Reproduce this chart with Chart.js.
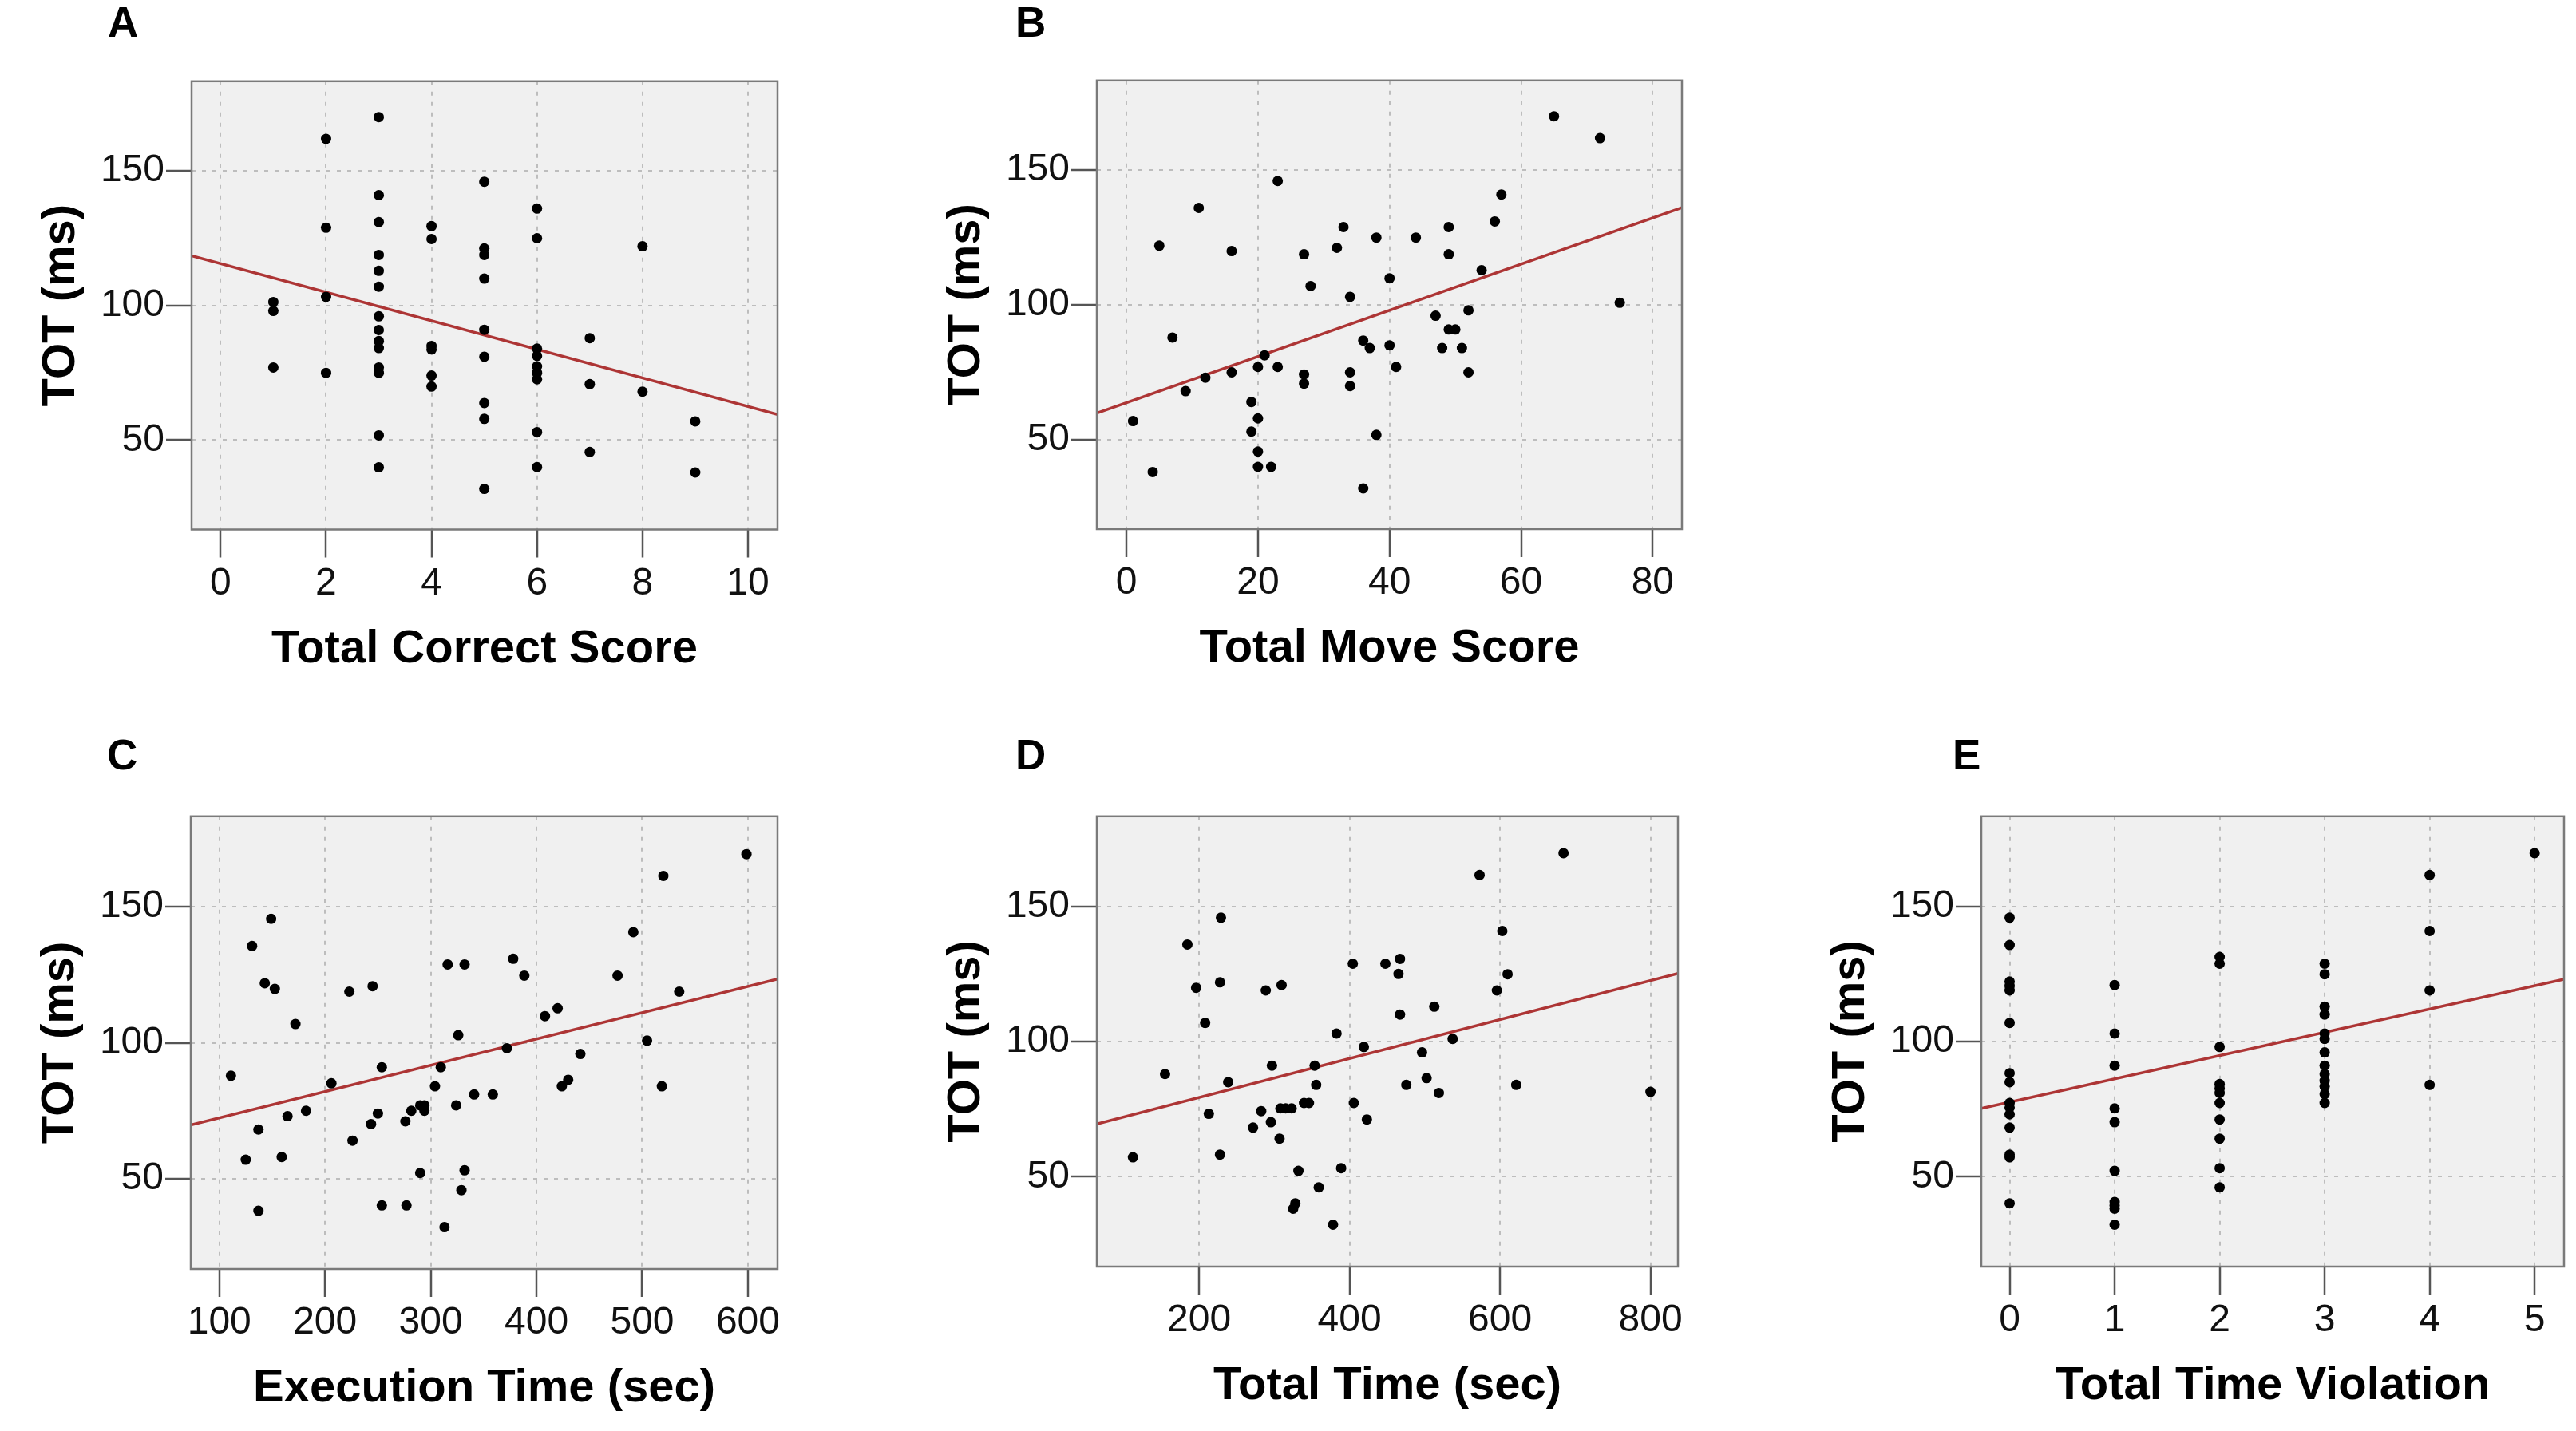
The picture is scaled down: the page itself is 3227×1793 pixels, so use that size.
<!DOCTYPE html>
<html>
<head>
<meta charset="utf-8">
<title>TOT vs task scores</title>
<script src="https://cdn.jsdelivr.net/npm/chart.js@4.4.1/dist/chart.umd.min.js"></script>
<style>
  html, body { margin: 0; padding: 0; background: #fff; }
  body { width: 3227px; height: 1793px; position: relative; overflow: hidden; font-family: "Liberation Sans", Arial, sans-serif; }
  .panel { position: absolute; }
  .letter { position: absolute; font-weight: bold; font-size: 53px; line-height: 53px; color: #000; }
</style>
</head>
<body>
<div class="letter" style="left:135px;top:1px">A</div>
<div class="letter" style="left:1272px;top:1px">B</div>
<div class="letter" style="left:134px;top:919px">C</div>
<div class="letter" style="left:1272px;top:919px">D</div>
<div class="letter" style="left:2446px;top:919px">E</div>

<div class="panel"><canvas id="chartA"></canvas></div>
<div class="panel"><canvas id="chartB"></canvas></div>
<div class="panel"><canvas id="chartC"></canvas></div>
<div class="panel"><canvas id="chartD"></canvas></div>
<div class="panel"><canvas id="chartE"></canvas></div>

<script>
"use strict";

// Shared y axis: time on task (ms)
var totTicks = [50, 100, 150];
var totRange = [16.8, 183.3];

// A - Total Correct Score
var correctScore = [1, 1, 1,
    2, 2, 2, 2,
    3, 3, 3, 3, 3, 3, 3, 3, 3, 3, 3, 3, 3, 3,
    4, 4, 4, 4, 4, 4,
    5, 5, 5, 5, 5, 5, 5, 5, 5,
    6, 6, 6, 6, 6, 6, 6, 6, 6,
    7, 7, 7,
    8, 8,
    9, 9];
var totCorrect = [101.3, 98, 77,
    161.9, 128.9, 103.2, 75,
    170, 141, 131, 118.8, 112.9, 107, 96, 90.9, 86.8, 84.2, 77, 75, 51.8, 39.9,
    129.5, 124.7, 85, 83.7, 74, 69.9,
    146, 121.2, 118.8, 110, 91, 81, 63.8, 57.9, 31.9,
    136, 125, 84, 81.3, 77.4, 75, 72.6, 53, 40,
    87.9, 70.8, 45.6,
    122, 68,
    57, 38];
var correctTicks = [0, 2, 4, 6, 8, 10];
var correctRange = [-0.55, 10.56];
var correctFit = [115.6, -5.31]; // intercept, slope

// B - Total Move Score
var moveScore = [1, 4, 5, 7, 9, 11, 12, 16, 16, 19, 19, 20, 20, 20, 20, 21, 22, 23, 23, 27, 27, 27, 28, 32, 33, 34,
    34, 34, 36, 36, 37, 38, 38, 40, 40, 41, 44, 47, 48, 49, 49, 49, 50, 51, 52, 52, 54, 56, 57, 65, 72, 75];
var totMove = [56.9, 38, 122, 87.9, 68, 136, 73, 75, 120, 64, 53, 57.9, 77, 45.6, 39.9, 81.3, 39.9, 77, 146, 118.8, 74.2, 70.8, 107, 121.2, 128.9, 103,
    75, 69.9, 86.8, 31.9, 84, 125, 51.8, 109.9, 85, 77, 125, 96, 84, 128.9, 118.8, 90.9, 90.9, 84, 98, 75, 112.9, 131, 141, 170, 161.9, 100.8];
var moveTicks = [0, 20, 40, 60, 80];
var moveRange = [-4.5, 84.45];
var moveFit = [63.7, 0.857];

// C - Execution Time (sec)
var execTime = [111, 125, 131, 137, 137, 143, 149, 152.5, 159, 164.5, 172, 182, 206, 223, 226, 243.5, 245, 250, 253.7, 253.7,
    276, 277, 281.6, 290, 290, 294, 294, 304, 309.5, 313, 316, 324, 326, 329, 332, 332, 341, 358.7, 372, 378,
    388.5, 408, 420, 424, 430, 441.5, 476.7, 491.6, 504.6, 518.6, 520, 535, 598.6];
var totExec = [87.9, 57, 135.6, 68.1, 38.2, 121.9, 145.6, 119.8, 58, 73, 106.9, 75, 85.1, 118.8, 64, 70.1, 120.8, 74, 91, 40.2,
    71.1, 40.2, 75, 52.1, 77, 77, 75, 84, 91, 32.2, 128.8, 77, 102.8, 45.8, 128.8, 53.1, 81, 81, 98, 130.9,
    124.7, 109.8, 112.7, 84, 86.4, 95.9, 124.7, 140.7, 100.8, 84, 161.4, 118.8, 169.4];
var execTicks = [100, 200, 300, 400, 500, 600];
var execRange = [73, 628];
var execFit = [62.75, 0.0966];

// D - Total Time (sec)
var totalTime = [112, 154.7, 184.4, 196, 208, 212.9, 227.7, 227.7, 229, 238.6, 271.7, 282.5, 288.6, 295.4, 296.8, 306.9, 308, 309.6,
    315, 323, 325, 327.9, 332, 339.4, 346, 353.6, 355.6, 359, 378, 382.7, 388.8, 404.3, 405.7, 419, 423, 447.6, 465, 467,
    467, 475.4, 496.3, 502.4, 512.6, 518.7, 537, 572.8, 595.8, 603, 610, 621.5, 684.4, 800];
var totTotal = [57.2, 88, 135.9, 119.9, 106.9, 73.3, 121.9, 58.2, 145.8, 85, 68.2, 74.3, 118.9, 70.2, 91.1, 64.1, 75.3, 120.9,
    75.3, 75.3, 38.2, 40.2, 52.2, 77.3, 77.3, 91.1, 84, 46.1, 32.3, 103, 53.2, 128.8, 77.3, 98, 71.2, 128.8, 125, 130.6,
    110, 84, 96, 86.5, 112.9, 81, 101, 161.6, 118.9, 140.9, 124.9, 84, 169.7, 81.4];
var totalTicks = [200, 400, 600, 800];
var totalRange = [64, 836.5];
var totalFit = [64.9, 0.0721];

// E - Total Time Violation
var violations = [0, 0, 0, 0, 0, 0, 0, 0, 0, 0, 0, 0, 0, 0, 0,
    1, 1, 1, 1, 1, 1, 1, 1, 1, 1,
    2, 2, 2, 2, 2, 2, 2, 2, 2, 2, 2,
    3, 3, 3, 3, 3, 3, 3, 3, 3, 3, 3, 3, 3,
    4, 4, 4, 4,
    5];
var totViol = [145.8, 135.7, 122.2, 120.6, 118.9, 106.9, 88.3, 85, 77.3, 75.6, 73.1, 68.2, 58.2, 57.2, 40.2,
    120.9, 103, 91.1, 75.3, 70.2, 52.2, 40.7, 39.4, 38.2, 32.3,
    131.3, 128.8, 98, 84.3, 82.7, 81, 77.3, 71.2, 64.1, 53.2, 46.1,
    128.8, 124.9, 112.9, 110, 103, 101, 96, 91.1, 88, 85.5, 83.4, 80.6, 77.3,
    161.6, 140.9, 118.9, 84,
    169.7];
var violTicks = [0, 1, 2, 3, 4, 5];
var violRange = [-0.27, 5.28];
var violFit = [77.6, 8.61];

// layout of the plot boxes on the page (left, top, right, bottom)
var Y_AXIS_W = 240;
var X_AXIS_H = 200;
var PAD_T = 20;
var PAD_R = 30;
var FONT = '"Liberation Sans", Arial, sans-serif';

// grey plot background + frame around the plot area
var plotFrame = {
    id: 'plotFrame',
    beforeDraw: function (chart) {
        var a = chart.chartArea, ctx = chart.ctx;
        ctx.save();
        ctx.fillStyle = '#f0f0f0';
        ctx.fillRect(a.left, a.top, a.right - a.left, a.bottom - a.top);
        ctx.restore();
    },
    afterDraw: function (chart) {
        var a = chart.chartArea, ctx = chart.ctx;
        ctx.save();
        ctx.strokeStyle = '#7a7a7a';
        ctx.lineWidth = 2.5;
        ctx.strokeRect(a.left, a.top, a.right - a.left, a.bottom - a.top);
        ctx.restore();
    }
};

function makePanel(id, box, xs, ys, xTicks, xRange, fit, xTitle) {
    var canvas = document.getElementById(id);
    var wrap = canvas.parentNode;
    wrap.style.left = (box[0] - Y_AXIS_W) + 'px';
    wrap.style.top = (box[1] - PAD_T) + 'px';
    wrap.style.width = (box[2] - box[0] + Y_AXIS_W + PAD_R) + 'px';
    wrap.style.height = (box[3] - box[1] + PAD_T + X_AXIS_H) + 'px';

    var points = xs.map(function (x, i) { return { x: x, y: ys[i] }; });
    var fitLine = [
        { x: xRange[0], y: fit[0] + fit[1] * xRange[0] },
        { x: xRange[1], y: fit[0] + fit[1] * xRange[1] }
    ];

    var gridCommon = {
        color: '#bdbdbd',
        lineWidth: 2,
        tickColor: '#555',
        tickWidth: 2.5
    };

    new Chart(canvas.getContext('2d'), {
        type: 'scatter',
        data: {
            datasets: [{
                data: points,
                backgroundColor: '#000',
                borderColor: '#000',
                pointRadius: 6.5,
                borderWidth: 0
            }, {
                type: 'line',
                data: fitLine,
                borderColor: '#ad3535',
                borderWidth: 3.5,
                pointRadius: 0,
                fill: false
            }]
        },
        options: {
            responsive: true,
            maintainAspectRatio: false,
            animation: false,
            devicePixelRatio: 1,
            layout: { padding: { top: PAD_T, right: PAD_R, left: 0, bottom: 0 }, autoPadding: false },
            plugins: { legend: { display: false }, tooltip: { enabled: false } },
            scales: {
                x: {
                    type: 'linear',
                    min: xRange[0],
                    max: xRange[1],
                    afterBuildTicks: function (scale) {
                        scale.ticks = xTicks.map(function (v) { return { value: v }; });
                    },
                    afterFit: function (scale) { scale.height = X_AXIS_H; },
                    grid: Object.assign({ tickLength: 35 }, gridCommon),
                    border: { display: false, dash: [5, 8] },
                    ticks: { color: '#111', padding: 4, maxRotation: 0, font: { family: FONT, size: 48 } },
                    title: {
                        display: true,
                        text: xTitle,
                        color: '#000',
                        font: { family: FONT, size: 58, weight: 'bold' },
                        padding: { top: 0, bottom: 15 }
                    }
                },
                y: {
                    type: 'linear',
                    min: totRange[0],
                    max: totRange[1],
                    afterBuildTicks: function (scale) {
                        scale.ticks = totTicks.map(function (v) { return { value: v }; });
                    },
                    afterFit: function (scale) { scale.width = Y_AXIS_W; },
                    grid: Object.assign({ tickLength: 32 }, gridCommon),
                    border: { display: false, dash: [5, 8] },
                    ticks: { color: '#111', padding: 2, font: { family: FONT, size: 48 } },
                    title: {
                        display: true,
                        text: 'TOT (ms)',
                        color: '#000',
                        font: { family: FONT, size: 58, weight: 'bold' },
                        padding: { top: 42, bottom: 0 }
                    }
                }
            }
        },
        plugins: [plotFrame]
    });
}

makePanel('chartA', [240, 90.5, 974, 663], correctScore, totCorrect, correctTicks, correctRange, correctFit, 'Total Correct Score');
makePanel('chartB', [1374, 90, 2107, 663], moveScore, totMove, moveTicks, moveRange, moveFit, 'Total Move Score');
makePanel('chartC', [239, 1012, 974, 1590], execTime, totExec, execTicks, execRange, execFit, 'Execution Time (sec)');
makePanel('chartD', [1374, 1012, 2102, 1587], totalTime, totTotal, totalTicks, totalRange, totalFit, 'Total Time (sec)');
makePanel('chartE', [2482, 1012, 3212, 1587], violations, totViol, violTicks, violRange, violFit, 'Total Time Violation');
</script>
</body>
</html>
